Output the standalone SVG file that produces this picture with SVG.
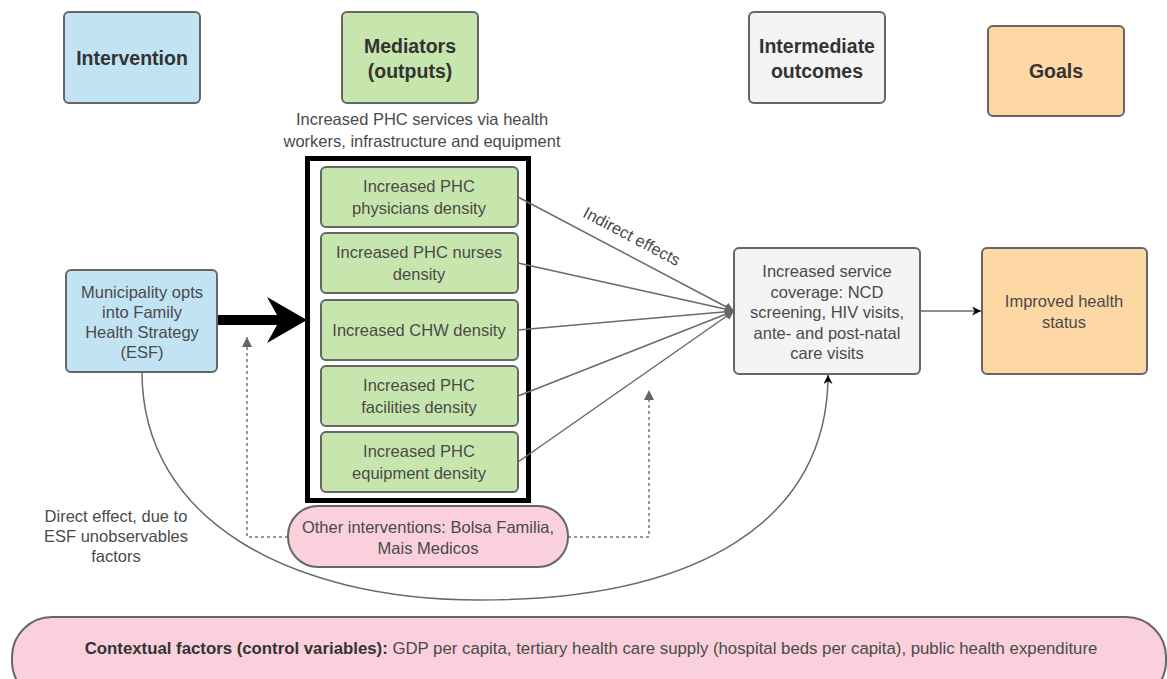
<svg xmlns="http://www.w3.org/2000/svg" width="1167" height="679" viewBox="0 0 1167 679">
  <style>
    .box { stroke: #666666; stroke-width: 2; }
    .blue { fill: #c2e3f4; }
    .green { fill: #c7e6ad; }
    .grey { fill: #f4f4f4; }
    .orange { fill: #fed8a4; }
    .pink { fill: #f9d0dc; }
    .t { font-family: "Liberation Sans", Arial, sans-serif; font-size: 16.5px; fill: #4a4a4a; text-anchor: middle; dominant-baseline: central; }
    .h { font-weight: bold; font-size: 19.5px; fill: #333333; }
    .edge { fill: none; stroke: #6a6a6a; stroke-width: 1.5; }
    .dash { fill: none; stroke: #777777; stroke-width: 1.5; stroke-dasharray: 3 3; }
  </style>
  <defs>
    <marker id="greyTip" viewBox="0 0 10 10" refX="10" refY="5" markerWidth="9" markerHeight="9" markerUnits="userSpaceOnUse" orient="auto">
      <path d="M0,0 L10,5 L0,10 Z" fill="#666666"/>
    </marker>
    <marker id="blackTip" viewBox="0 0 10 10" refX="10" refY="5" markerWidth="9" markerHeight="9" markerUnits="userSpaceOnUse" orient="auto">
      <path d="M0,0 L10,5 L0,10 L3,5 Z" fill="#000000"/>
    </marker>
    <marker id="dashTip" viewBox="0 0 10 10" refX="10" refY="5" markerWidth="10" markerHeight="10" markerUnits="userSpaceOnUse" orient="auto">
      <path d="M0,0 L10,5 L0,10 Z" fill="#666666"/>
    </marker>
  </defs>

  <!-- column headings -->
  <g id="head-intervention">
    <rect class="box blue" x="64" y="12" width="136" height="91" rx="5"/>
    <text class="t h" x="132" y="58">Intervention</text>
  </g>
  <g id="head-mediators">
    <rect class="box green" x="342" y="12" width="136" height="91" rx="5"/>
    <text class="t h" x="410" y="46">Mediators</text>
    <text class="t h" x="410" y="71">(outputs)</text>
  </g>
  <g id="head-intermediate">
    <rect class="box grey" x="749" y="12" width="136" height="91" rx="5"/>
    <text class="t h" x="817" y="46">Intermediate</text>
    <text class="t h" x="817" y="71">outcomes</text>
  </g>
  <g id="head-goals">
    <rect class="box orange" x="988" y="26" width="136" height="90" rx="5"/>
    <text class="t h" x="1056" y="71">Goals</text>
  </g>

  <!-- mediator group caption and frame -->
  <g id="mediator-frame">
    <text class="t" x="422" y="119">Increased PHC services via health</text>
    <text class="t" x="422" y="141">workers, infrastructure and equipment</text>
    <rect x="307.5" y="158.5" width="221" height="342" fill="#ffffff" stroke="#000000" stroke-width="5"/>
  </g>

  <!-- connectors -->
  <g id="connectors">
    <!-- intervention into mediators -->
    <path d="M217,315 L277,315 L267,297 L307,320 L267,343 L277,325 L217,325 Z" fill="#000000"/>
    <!-- indirect effects -->
    <line class="edge" x1="518" y1="197" x2="734" y2="311" marker-end="url(#greyTip)"/>
    <line class="edge" x1="518" y1="263" x2="734" y2="311" marker-end="url(#greyTip)"/>
    <line class="edge" x1="518" y1="330" x2="734" y2="311" marker-end="url(#greyTip)"/>
    <line class="edge" x1="518" y1="396" x2="734" y2="311" marker-end="url(#greyTip)"/>
    <line class="edge" x1="518" y1="462" x2="734" y2="311" marker-end="url(#greyTip)"/>
    <text class="t" x="632" y="236" transform="rotate(27.8 632 236)">Indirect effects</text>
    <!-- coverage to health status -->
    <line class="edge" x1="920" y1="311" x2="981" y2="311" marker-end="url(#blackTip)"/>
    <!-- direct effect -->
    <path class="edge" d="M142,372 C142,520 290,600 480,600 C700,600 828,520 828,375" marker-end="url(#blackTip)"/>
    <!-- other interventions -->
    <path class="dash" d="M288,537 L247,537 L247,337" marker-end="url(#dashTip)"/>
    <path class="dash" d="M568,537 L649,537 L649,390" marker-end="url(#dashTip)"/>
  </g>

  <g id="esf">
    <rect class="box blue" x="66" y="270" width="151" height="102" rx="5"/>
    <text class="t" x="142" y="292">Municipality opts</text>
    <text class="t" x="142" y="312">into Family</text>
    <text class="t" x="142" y="332">Health Strategy</text>
    <text class="t" x="142" y="352">(ESF)</text>
  </g>

  <g id="physicians">
    <rect class="box green" x="321" y="167" width="197" height="60" rx="5"/>
    <text class="t" x="419" y="186">Increased PHC</text>
    <text class="t" x="419" y="208">physicians density</text>
  </g>
  <g id="nurses">
    <rect class="box green" x="321" y="233" width="197" height="60" rx="5"/>
    <text class="t" x="419" y="252">Increased PHC nurses</text>
    <text class="t" x="419" y="274">density</text>
  </g>
  <g id="chw">
    <rect class="box green" x="321" y="300" width="197" height="60" rx="5"/>
    <text class="t" x="419" y="330">Increased CHW density</text>
  </g>
  <g id="facilities">
    <rect class="box green" x="321" y="366" width="197" height="60" rx="5"/>
    <text class="t" x="419" y="385">Increased PHC</text>
    <text class="t" x="419" y="407">facilities density</text>
  </g>
  <g id="equipment">
    <rect class="box green" x="321" y="432" width="197" height="60" rx="5"/>
    <text class="t" x="419" y="451">Increased PHC</text>
    <text class="t" x="419" y="473">equipment density</text>
  </g>

  <g id="coverage">
    <rect class="box grey" x="734" y="248" width="186" height="126" rx="5"/>
    <text class="t" x="827" y="271">Increased service</text>
    <text class="t" x="827" y="292">coverage: NCD</text>
    <text class="t" x="827" y="312">screening, HIV visits,</text>
    <text class="t" x="827" y="333">ante- and post-natal</text>
    <text class="t" x="827" y="353">care visits</text>
  </g>

  <g id="health-status">
    <rect class="box orange" x="982" y="248" width="165" height="126" rx="5"/>
    <text class="t" x="1064" y="301">Improved health</text>
    <text class="t" x="1064" y="322">status</text>
  </g>

  <g id="other-interventions">
    <rect class="box pink" x="288" y="506" width="280" height="61" rx="30"/>
    <text class="t" x="428" y="527">Other interventions: Bolsa Familia,</text>
    <text class="t" x="428" y="548">Mais Medicos</text>
  </g>

  <g id="direct-effect-label">
    <text class="t" x="116" y="516">Direct effect, due to</text>
    <text class="t" x="116" y="536">ESF unobservables</text>
    <text class="t" x="116" y="556">factors</text>
  </g>

  <g id="contextual">
    <rect class="box pink" x="12" y="617" width="1154" height="84" rx="40"/>
    <text class="t" x="591" y="648" style="font-size:16.8px"><tspan font-weight="bold" fill="#333333">Contextual factors (control variables):</tspan> GDP per capita, tertiary health care supply (hospital beds per capita), public health expenditure</text>
  </g>
</svg>
